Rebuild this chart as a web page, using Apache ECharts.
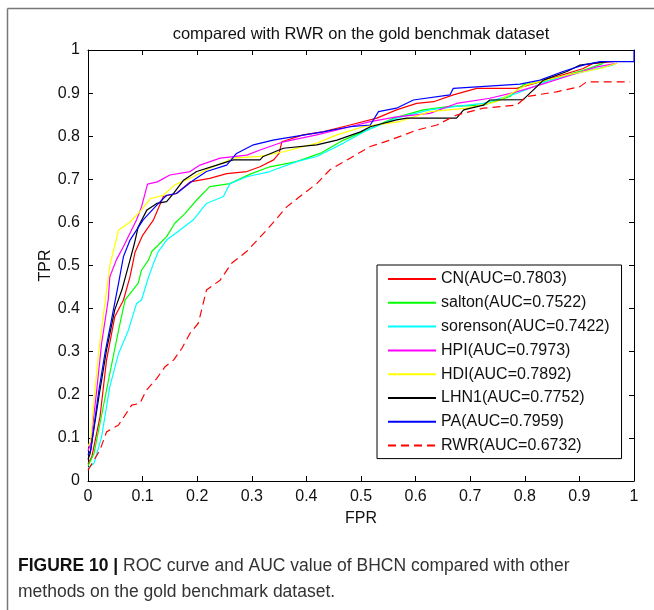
<!DOCTYPE html>
<html>
<head>
<meta charset="utf-8">
<script src="https://cdn.jsdelivr.net/npm/echarts@6/dist/echarts.min.js"></script>
<style>
html,body{margin:0;padding:0;background:#fff;}
#chart{width:654px;height:610px;}
</style>
</head>
<body>
<div id="chart"></div>
<script>
const titleText = 'compared with RWR on the gold benchmak dataset';
const xName = 'FPR';
const yName = 'TPR';
const seriesNames = ['CN(AUC=0.7803)','salton(AUC=0.7522)','sorenson(AUC=0.7422)','HPI(AUC=0.7973)','HDI(AUC=0.7892)','LHN1(AUC=0.7752)','PA(AUC=0.7959)','RWR(AUC=0.6732)'];
const seriesColors = ['#ff0000','#00ff00','#00ffff','#ff00ff','#ffff00','#000000','#0000ff','#ff0000'];

const cnData = [[0,0.04],[0.007,0.056],[0.022,0.149],[0.034,0.281],[0.049,0.381],[0.065,0.42],[0.077,0.474],[0.086,0.53],[0.1,0.57],[0.12,0.606],[0.138,0.66],[0.162,0.667],[0.187,0.694],[0.223,0.702],[0.254,0.713],[0.291,0.718],[0.315,0.729],[0.34,0.745],[0.35,0.76],[0.355,0.787],[0.394,0.803],[0.43,0.81],[0.48,0.826],[0.529,0.842],[0.565,0.861],[0.602,0.876],[0.633,0.88],[0.669,0.896],[0.712,0.911],[0.785,0.911],[0.828,0.926],[0.907,0.957],[0.925,0.969],[0.962,0.973]];
const saltonData = [[0,0.035],[0.011,0.064],[0.022,0.134],[0.04,0.25],[0.056,0.35],[0.068,0.42],[0.092,0.459],[0.098,0.489],[0.111,0.513],[0.117,0.533],[0.126,0.544],[0.144,0.567],[0.159,0.598],[0.178,0.621],[0.199,0.652],[0.223,0.683],[0.26,0.69],[0.297,0.712],[0.333,0.729],[0.382,0.741],[0.425,0.76],[0.468,0.791],[0.511,0.814],[0.56,0.842],[0.614,0.861],[0.663,0.869],[0.724,0.872],[0.773,0.892],[0.797,0.919],[0.846,0.93],[0.907,0.953],[0.944,0.969]];
const sorensonData = [[0,0.03],[0.011,0.041],[0.025,0.103],[0.04,0.219],[0.056,0.296],[0.074,0.35],[0.089,0.412],[0.098,0.42],[0.111,0.474],[0.12,0.505],[0.129,0.533],[0.144,0.559],[0.168,0.582],[0.193,0.606],[0.217,0.644],[0.248,0.66],[0.26,0.69],[0.291,0.706],[0.333,0.718],[0.382,0.741],[0.419,0.753],[0.468,0.784],[0.511,0.814],[0.565,0.842],[0.626,0.861],[0.675,0.869],[0.724,0.876],[0.785,0.899],[0.846,0.93],[0.919,0.953],[0.962,0.965]];
const hpiData = [[0,0.07],[0.005,0.087],[0.016,0.211],[0.025,0.32],[0.037,0.42],[0.04,0.474],[0.052,0.513],[0.065,0.544],[0.089,0.606],[0.098,0.636],[0.109,0.689],[0.127,0.694],[0.15,0.71],[0.187,0.718],[0.205,0.733],[0.242,0.749],[0.291,0.756],[0.315,0.768],[0.358,0.787],[0.419,0.803],[0.48,0.822],[0.517,0.834],[0.565,0.845],[0.626,0.853],[0.675,0.876],[0.736,0.888],[0.785,0.903],[0.828,0.919],[0.895,0.946],[0.932,0.961],[0.968,0.969]];
const hdiData = [[0,0.08],[0.005,0.094],[0.011,0.188],[0.02,0.304],[0.029,0.393],[0.04,0.5],[0.056,0.582],[0.077,0.601],[0.098,0.629],[0.114,0.655],[0.138,0.663],[0.159,0.687],[0.193,0.706],[0.217,0.722],[0.266,0.749],[0.315,0.753],[0.358,0.764],[0.419,0.784],[0.456,0.803],[0.504,0.822],[0.571,0.834],[0.626,0.857],[0.694,0.865],[0.748,0.88],[0.803,0.919],[0.877,0.942],[0.938,0.957],[0.968,0.969]];
const lhn1Data = [[0,0.05],[0.004,0.064],[0.02,0.196],[0.034,0.304],[0.049,0.397],[0.062,0.443],[0.077,0.513],[0.085,0.551],[0.092,0.59],[0.108,0.629],[0.126,0.644],[0.144,0.648],[0.157,0.668],[0.175,0.698],[0.199,0.718],[0.236,0.733],[0.266,0.745],[0.315,0.745],[0.321,0.753],[0.358,0.772],[0.419,0.78],[0.456,0.791],[0.499,0.81],[0.517,0.822],[0.565,0.838],[0.584,0.842],[0.675,0.842],[0.688,0.861],[0.724,0.872],[0.736,0.884],[0.797,0.885],[0.822,0.915],[0.834,0.93],[0.877,0.95],[0.901,0.965],[0.932,0.97],[0.95,0.973]];
const paData = [[0,0.06],[0.005,0.072],[0.02,0.211],[0.031,0.296],[0.043,0.374],[0.056,0.459],[0.065,0.521],[0.077,0.559],[0.101,0.606],[0.126,0.64],[0.144,0.663],[0.162,0.667],[0.193,0.698],[0.217,0.718],[0.254,0.733],[0.272,0.76],[0.303,0.78],[0.339,0.791],[0.358,0.795],[0.43,0.81],[0.48,0.822],[0.517,0.826],[0.532,0.857],[0.565,0.865],[0.596,0.884],[0.663,0.896],[0.669,0.911],[0.791,0.921],[0.828,0.93],[0.87,0.95],[0.907,0.965],[0.938,0.973],[1,0.973],[1,1]];
const rwrData = [[0,0.025],[0.022,0.072],[0.034,0.114],[0.056,0.13],[0.08,0.176],[0.095,0.18],[0.107,0.211],[0.126,0.238],[0.141,0.265],[0.157,0.281],[0.172,0.308],[0.187,0.343],[0.202,0.366],[0.217,0.443],[0.242,0.466],[0.263,0.505],[0.291,0.533],[0.327,0.582],[0.364,0.636],[0.388,0.66],[0.419,0.69],[0.443,0.722],[0.48,0.749],[0.517,0.776],[0.553,0.791],[0.602,0.814],[0.639,0.826],[0.675,0.849],[0.724,0.865],[0.785,0.872],[0.803,0.892],[0.858,0.903],[0.901,0.915],[0.913,0.926],[0.993,0.926]];
const allData = [cnData, saltonData, sorensonData, hpiData, hdiData, lhn1Data, paData, rwrData];

const captionBold = 'FIGURE 10 |';
const captionLine1 = ' ROC curve and AUC value of BHCN compared with other';
const captionLine2 = 'methods on the gold benchmark dataset.';

const FONT = 'Liberation Sans, Arial, sans-serif';
const chart = echarts.init(document.getElementById('chart'), null, {renderer:'canvas'});

const axisCommon = {
  type:'value', min:0, max:1, interval:0.1,
  axisLine:{show:true, onZero:false, lineStyle:{color:'#000', width:1}},
  axisTick:{show:true, inside:true, length:5, lineStyle:{color:'#000', width:1}},
  splitLine:{show:false}
};

const series = seriesNames.map((name, i) => ({
  name: name,
  type: 'line',
  data: allData[i],
  symbol: 'none',
  showSymbol: false,
  animation: false,
  xAxisIndex: 0, yAxisIndex: 0,
  lineStyle: {color: seriesColors[i], width: 1.2, type: i === 7 ? [8,5] : 'solid'},
  itemStyle: {color: seriesColors[i]}
}));

chart.setOption({
  animation:false,
  backgroundColor:'#fff',
  title:{
    text:titleText, left:356, top:21, textAlign:'center',
    textStyle:{fontFamily:FONT, fontSize:16.5, fontWeight:'normal', color:'#111'}
  },
  grid:{left:88, right:20, top:50, bottom:129, containLabel:false},
  xAxis:[
    Object.assign({}, axisCommon, {
      position:'bottom', name:xName, nameLocation:'middle', nameGap:30,
      nameTextStyle:{fontFamily:FONT, fontSize:16, color:'#111'},
      axisLabel:{show:true, margin:8, fontFamily:FONT, fontSize:16, color:'#111'}
    }),
    Object.assign({}, axisCommon, {position:'top', axisLabel:{show:false}})
  ],
  yAxis:[
    Object.assign({}, axisCommon, {
      position:'left', name:yName, nameLocation:'middle', nameGap:34, nameMoveOverlap:false,
      nameTextStyle:{fontFamily:FONT, fontSize:16, color:'#111'},
      axisLabel:{show:true, margin:8, fontFamily:FONT, fontSize:16, color:'#111'}
    }),
    Object.assign({}, axisCommon, {position:'right', axisLabel:{show:false}})
  ],
  legend:{
    show:true, orient:'vertical', left:377, top:265,
    itemWidth:48, itemHeight:14, itemGap:7.8,
    padding:[6,12,5,10],
    backgroundColor:'#fff', borderColor:'#000', borderWidth:1, borderRadius:0,
    selectedMode:false,
    itemStyle:{opacity:0, borderWidth:0},
    textStyle:{fontFamily:FONT, fontSize:16, color:'#111', lineHeight:16},
    data:seriesNames
  },
  graphic:[
    {type:'line', shape:{x1:7.5, y1:8.5, x2:654, y2:8.5}, style:{stroke:'#777', lineWidth:1.5}, silent:true},
    {type:'line', shape:{x1:7.5, y1:8.5, x2:7.5, y2:610}, style:{stroke:'#777', lineWidth:1.5}, silent:true},
    {type:'text', left:18, top:557, style:{
      text:'{b|' + captionBold + '}{r|' + captionLine1 + '}',
      rich:{
        b:{fontFamily:FONT, fontSize:17.5, fontWeight:'bold', fill:'#111'},
        r:{fontFamily:FONT, fontSize:17.5, fontWeight:'normal', fill:'#333'}
      }
    }},
    {type:'text', left:18, top:583, style:{
      text:captionLine2, fontFamily:FONT, fontSize:17.5, fill:'#333'
    }}
  ],
  series: series
});
</script>
</body>
</html>
